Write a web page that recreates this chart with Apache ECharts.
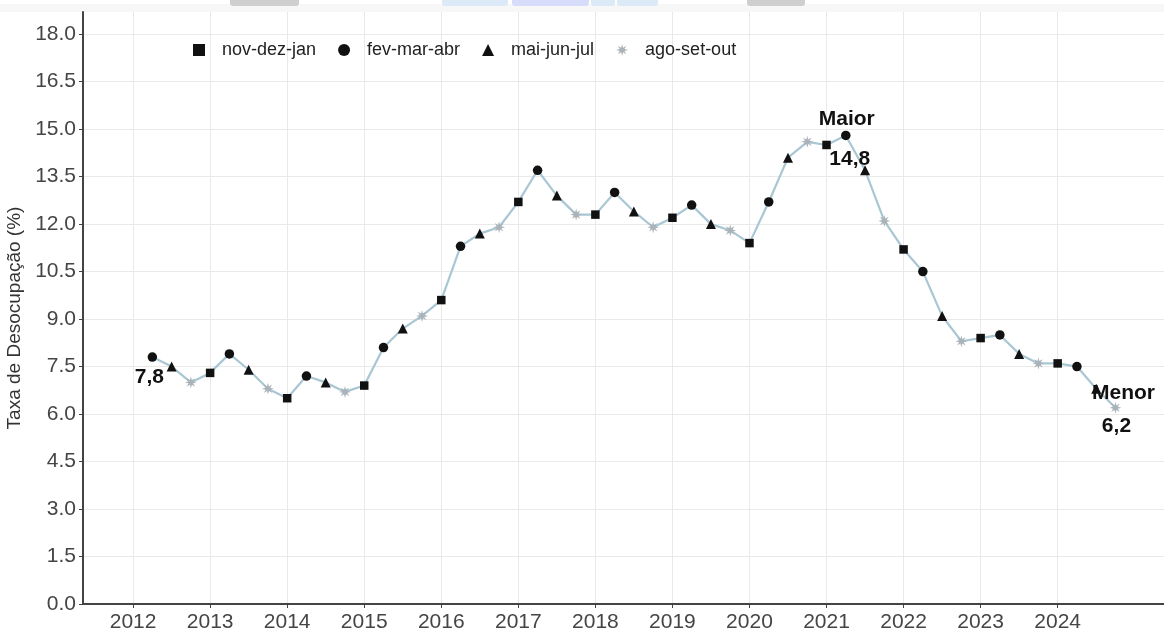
<!DOCTYPE html>
<html><head><meta charset="utf-8">
<script src="https://cdn.jsdelivr.net/npm/echarts@6/dist/echarts.min.js"></script>
<style>html,body{margin:0;padding:0;background:#fff}#c{width:1164px;height:639px}</style>
</head><body><div id="c"></div>
<script>
// ---- data ----
const quarterNames = ['nov-dez-jan', 'fev-mar-abr', 'mai-jun-jul', 'ago-set-out'];
const firstYear = 2012;
const firstQuarter = 1; // series starts at fev-mar-abr 2012
const rate = [
  7.8, 7.5, 7.0,
  7.3, 7.9, 7.4, 6.8,
  6.5, 7.2, 7.0, 6.7,
  6.9, 8.1, 8.7, 9.1,
  9.6, 11.3, 11.7, 11.9,
  12.7, 13.7, 12.9, 12.3,
  12.3, 13.0, 12.4, 11.9,
  12.2, 12.6, 12.0, 11.8,
  11.4, 12.7, 14.1, 14.6,
  14.5, 14.8, 13.7, 12.1,
  11.2, 10.5, 9.1, 8.3,
  8.4, 8.5, 7.9, 7.6,
  7.6, 7.5, 6.8, 6.2
];
const yearTicks = [2012, 2013, 2014, 2015, 2016, 2017, 2018, 2019, 2020, 2021, 2022, 2023, 2024];
const yTicks = [0, 1.5, 3, 4.5, 6, 7.5, 9, 10.5, 12, 13.5, 15, 16.5, 18];
const annotationNames = ['Maior', 'Menor'];
const yTitle = 'Taxa de Desocupação (%)';

// ---- derived ----
const points = rate.map((v, i) => {
  const q = firstQuarter + i;
  return { x: firstYear + q * 0.25, y: v, type: q % 4 };
});
const fmt = v => String(v).replace('.', ',');
let maxI = 0, minI = 0;
rate.forEach((v, i) => { if (v > rate[maxI]) maxI = i; if (v <= rate[minI]) minI = i; });

function asteriskPath() {
  let d = '';
  const n = 8, R = 10, r = 4.2;
  for (let k = 0; k < n * 2; k++) {
    const a = Math.PI * k / n - Math.PI / 2;
    const rad = (k % 2 === 0) ? R : r;
    d += (k === 0 ? 'M' : 'L') + (10 + rad * Math.cos(a)).toFixed(2) + ' ' + (10 + rad * Math.sin(a)).toFixed(2) + ' ';
  }
  return 'path://' + d + 'Z';
}
const symbols = ['rect', 'circle', 'triangle', asteriskPath()];
const symbolSizes = [8.5, 9.5, 10, 12];
const symbolColors = ['#111111', '#111111', '#111111', '#a9b3b9'];

const font = 'Liberation Sans, Arial, sans-serif';
const labelStyle = { fontFamily: font, fontSize: 21, fontWeight: 'bold', color: '#111111', opacity: 1 };

function annot(i, text, offset) {
  return {
    type: 'scatter', symbol: 'circle', symbolSize: 0.1, silent: true, z: 10,
    itemStyle: { color: 'rgba(0,0,0,0)', opacity: 1 },
    data: [{ value: [points[i].x, points[i].y] }],
    label: Object.assign({ show: true, position: 'inside', formatter: text, offset: offset }, labelStyle)
  };
}

const series = [{
  type: 'line', name: 'linha', symbol: 'none', showSymbol: false, silent: true, z: 1,
  lineStyle: { color: '#a9c6d3', width: 2.2 },
  data: points.map(p => [p.x, p.y])
}];
quarterNames.forEach((name, q) => {
  series.push({
    type: 'scatter', name: name, symbol: symbols[q], symbolSize: symbolSizes[q], z: 3,
    itemStyle: { color: symbolColors[q], opacity: 1 },
    data: points.filter(p => p.type === q).map(p => [p.x, p.y])
  });
});
series.push(annot(0, fmt(rate[0]), [-3, 20]));
series.push(annot(maxI, annotationNames[0], [1, -16]));
series.push(annot(maxI, fmt(rate[maxI]), [4, 24]));
series.push(annot(minI, annotationNames[1], [8, -15]));
series.push(annot(minI, fmt(rate[minI]), [1, 18]));

const chart = echarts.init(document.getElementById('c'), null, { renderer: 'canvas' });
chart.setOption({
  animation: false,
  backgroundColor: '#ffffff',
  textStyle: { fontFamily: font },
  grid: { left: 83, right: 0, top: 12, bottom: 35, containLabel: false, outerBoundsMode: 'none' },
  graphic: [
    { type: 'rect', shape: { x: 0, y: 4, width: 1164, height: 8 }, style: { fill: '#f7f7f7' }, silent: true },
    { type: 'rect', shape: { x: 230, y: 0, width: 69, height: 6, r: [0, 0, 3, 3] }, style: { fill: '#cfcfcf' }, silent: true },
    { type: 'rect', shape: { x: 442, y: 0, width: 66, height: 6, r: [0, 0, 3, 3] }, style: { fill: '#dce9f7' }, silent: true },
    { type: 'rect', shape: { x: 512, y: 0, width: 77, height: 6, r: [0, 0, 3, 3] }, style: { fill: '#d6dcfa' }, silent: true },
    { type: 'rect', shape: { x: 591, y: 0, width: 24, height: 6, r: [0, 0, 3, 3] }, style: { fill: '#dce9f7' }, silent: true },
    { type: 'rect', shape: { x: 617, y: 0, width: 41, height: 6, r: [0, 0, 3, 3] }, style: { fill: '#dce9f7' }, silent: true },
    { type: 'rect', shape: { x: 747, y: 0, width: 58, height: 6, r: [0, 0, 3, 3] }, style: { fill: '#cfcfcf' }, silent: true }
  ],
  legend: {
    data: quarterNames, left: 188, top: 35, orient: 'horizontal',
    itemWidth: 12, itemHeight: 12, itemGap: 22,
    textStyle: { fontFamily: font, fontSize: 18, color: '#222', padding: [0, 0, 0, 12], lineHeight: 20 }
  },
  xAxis: {
    type: 'value', min: 2011.35, max: 2025.38,
    axisLine: { show: true, onZero: false, lineStyle: { color: '#444', width: 2 } },
    axisTick: { show: true, length: 4, customValues: yearTicks, lineStyle: { color: '#444', width: 1 } },
    axisLabel: { customValues: yearTicks, fontSize: 21, color: '#454545', margin: 8, formatter: v => String(v) },
    splitLine: { show: true, lineStyle: { color: '#e9e9e9', width: 1 } }
  },
  yAxis: {
    type: 'value', min: 0, max: 18.7,
    name: yTitle, nameLocation: 'middle', nameRotate: 90, nameGap: 50,
    nameTextStyle: { fontFamily: font, fontSize: 19, color: '#333', padding: [0, 20, 0, 0] },
    axisLine: { show: true, lineStyle: { color: '#444', width: 2 } },
    axisTick: { show: true, length: 4, customValues: yTicks, lineStyle: { color: '#444', width: 1 } },
    axisLabel: { customValues: yTicks, fontSize: 21, color: '#454545', margin: 7, formatter: v => v.toFixed(1) },
    splitLine: { show: true, lineStyle: { color: '#e9e9e9', width: 1 } }
  },
  series: series
});
</script></body></html>
